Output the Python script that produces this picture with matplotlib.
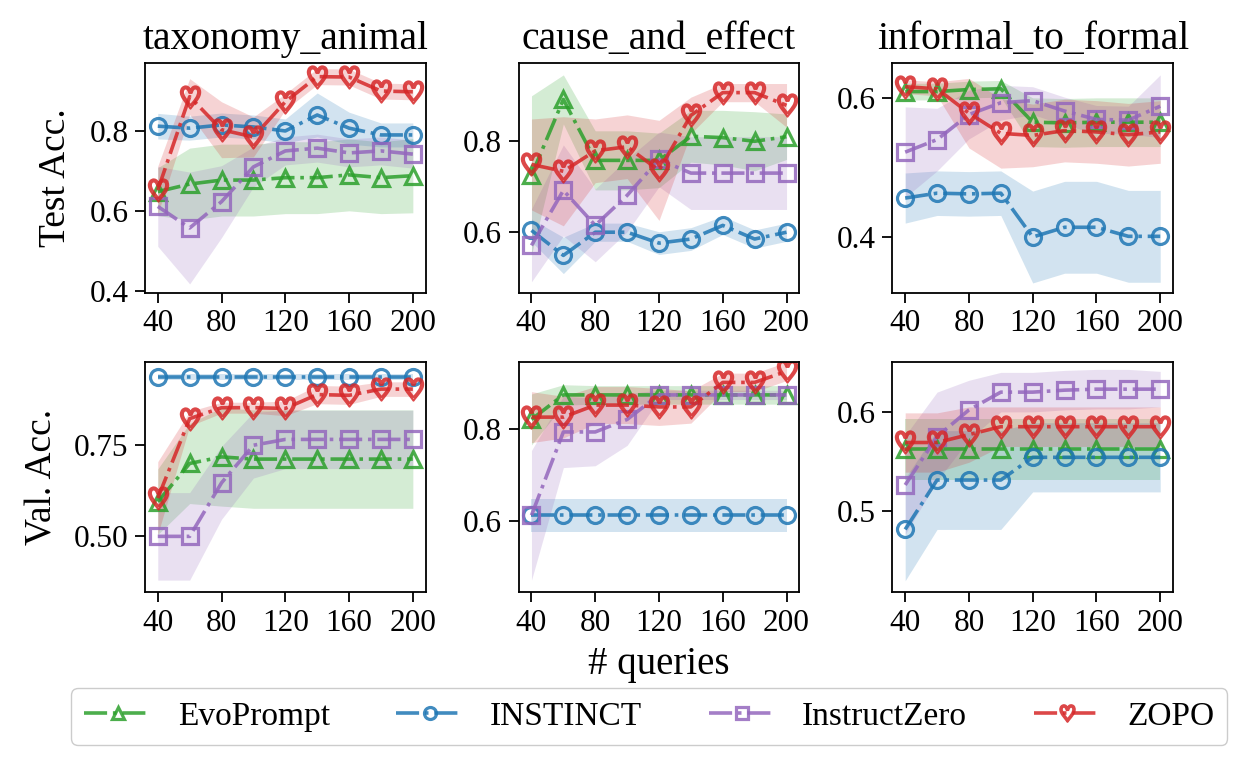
import numpy as np
import matplotlib
matplotlib.use('Agg')
import matplotlib.pyplot as plt

plt.rcParams['font.family'] = ['Liberation Serif', 'DejaVu Serif']
plt.rcParams['mathtext.fontset'] = 'stix'

# число запросов
queries = [40, 60, 80, 100, 120, 140, 160, 180, 200]
methods = ['EvoPrompt', 'INSTINCT', 'InstructZero', 'ZOPO']
tasks = ['taxonomy_animal', 'cause_and_effect', 'informal_to_formal']

# taxonomy_animal, test
tax_test_mean = {
    'EvoPrompt': [0.648, 0.667, 0.677, 0.677, 0.683, 0.683, 0.69, 0.683, 0.688],
    'INSTINCT': [0.812, 0.807, 0.815, 0.81, 0.80, 0.84, 0.807, 0.79, 0.79],
    'InstructZero': [0.611, 0.557, 0.623, 0.71, 0.75, 0.757, 0.745, 0.75, 0.742],
    'ZOPO': [0.652, 0.886, 0.803, 0.785, 0.873, 0.936, 0.935, 0.9, 0.898],
}
tax_test_std = {
    'EvoPrompt': [0.06, 0.09, 0.09, 0.09, 0.09, 0.09, 0.09, 0.09, 0.093],
    'INSTINCT': [0.032, 0.03, 0.03, 0.03, 0.03, 0.055, 0.04, 0.03, 0.03],
    'InstructZero': [0.10, 0.14, 0.09, 0.05, 0.035, 0.035, 0.035, 0.035, 0.035],
    'ZOPO': [0.06, 0.045, 0.07, 0.05, 0.02, 0.02, 0.02, 0.02, 0.02],
}

# cause_and_effect, test
cae_test_mean = {
    'EvoPrompt': [0.725, 0.892, 0.758, 0.758, 0.758, 0.811, 0.808, 0.80, 0.81],
    'INSTINCT': [0.604, 0.549, 0.60, 0.60, 0.576, 0.585, 0.615, 0.585, 0.60],
    'InstructZero': [0.571, 0.692, 0.615, 0.681, 0.76, 0.73, 0.73, 0.73, 0.73],
    'ZOPO': [0.749, 0.734, 0.779, 0.788, 0.736, 0.857, 0.907, 0.907, 0.879],
}
cae_test_std = {
    'EvoPrompt': [0.175, 0.054, 0.065, 0.065, 0.06, 0.057, 0.06, 0.065, 0.05],
    'INSTINCT': [0.025, 0.04, 0.02, 0.02, 0.025, 0.025, 0.02, 0.02, 0.02],
    'InstructZero': [0.08, 0.10, 0.08, 0.08, 0.06, 0.08, 0.08, 0.08, 0.08],
    'ZOPO': [0.10, 0.12, 0.07, 0.07, 0.11, 0.04, 0.02, 0.02, 0.048],
}

# informal_to_formal, test
itf_test_mean = {
    'EvoPrompt': [0.609, 0.609, 0.612, 0.613, 0.565, 0.564, 0.565, 0.565, 0.565],
    'INSTINCT': [0.456, 0.463, 0.462, 0.463, 0.40, 0.414, 0.414, 0.401, 0.401],
    'InstructZero': [0.522, 0.54, 0.576, 0.593, 0.596, 0.581, 0.569, 0.568, 0.588],
    'ZOPO': [0.616, 0.613, 0.578, 0.549, 0.546, 0.553, 0.551, 0.547, 0.551],
}
itf_test_std = {
    'EvoPrompt': [0.012, 0.012, 0.012, 0.012, 0.035, 0.035, 0.035, 0.035, 0.035],
    'INSTINCT': [0.036, 0.032, 0.032, 0.032, 0.066, 0.066, 0.066, 0.066, 0.066],
    'InstructZero': [0.065, 0.045, 0.035, 0.025, 0.02, 0.02, 0.02, 0.02, 0.045],
    'ZOPO': [0.01, 0.01, 0.05, 0.05, 0.045, 0.045, 0.045, 0.045, 0.045],
}

# taxonomy_animal, val
tax_val_mean = {
    'EvoPrompt': [0.595, 0.70, 0.718, 0.712, 0.712, 0.712, 0.712, 0.712, 0.712],
    'INSTINCT': [0.938, 0.938, 0.938, 0.938, 0.938, 0.938, 0.938, 0.938, 0.938],
    'InstructZero': [0.50, 0.50, 0.647, 0.75, 0.766, 0.766, 0.766, 0.766, 0.766],
    'ZOPO': [0.605, 0.823, 0.853, 0.853, 0.851, 0.889, 0.887, 0.904, 0.904],
}
tax_val_std = {
    'EvoPrompt': [0.09, 0.11, 0.135, 0.135, 0.135, 0.135, 0.135, 0.135, 0.135],
    'INSTINCT': [0.008, 0.008, 0.008, 0.008, 0.008, 0.008, 0.008, 0.008, 0.008],
    'InstructZero': [0.12, 0.12, 0.10, 0.09, 0.08, 0.08, 0.08, 0.08, 0.08],
    'ZOPO': [0.10, 0.02, 0.015, 0.015, 0.02, 0.025, 0.025, 0.02, 0.02],
}

# cause_and_effect, val
cae_val_mean = {
    'EvoPrompt': [0.82, 0.873, 0.873, 0.873, 0.873, 0.873, 0.873, 0.873, 0.873],
    'INSTINCT': [0.613, 0.613, 0.613, 0.613, 0.613, 0.613, 0.613, 0.613, 0.613],
    'InstructZero': [0.613, 0.793, 0.793, 0.82, 0.873, 0.873, 0.873, 0.873, 0.873],
    'ZOPO': [0.825, 0.825, 0.851, 0.851, 0.847, 0.847, 0.90, 0.90, 0.924],
}
cae_val_std = {
    'EvoPrompt': [0.055, 0.022, 0.02, 0.02, 0.02, 0.02, 0.02, 0.02, 0.02],
    'INSTINCT': [0.036, 0.036, 0.036, 0.036, 0.036, 0.036, 0.036, 0.036, 0.036],
    'InstructZero': [0.14, 0.077, 0.073, 0.056, 0.01, 0.01, 0.01, 0.01, 0.01],
    'ZOPO': [0.055, 0.045, 0.04, 0.04, 0.04, 0.035, 0.02, 0.02, 0.02],
}

# informal_to_formal, val
itf_val_mean = {
    'EvoPrompt': [0.562, 0.562, 0.562, 0.562, 0.562, 0.562, 0.562, 0.562, 0.562],
    'INSTINCT': [0.481, 0.531, 0.531, 0.531, 0.554, 0.554, 0.554, 0.554, 0.554],
    'InstructZero': [0.526, 0.575, 0.602, 0.62, 0.62, 0.622, 0.623, 0.623, 0.623],
    'ZOPO': [0.569, 0.569, 0.577, 0.585, 0.585, 0.585, 0.585, 0.585, 0.585],
}
itf_val_std = {
    'EvoPrompt': [0.031, 0.031, 0.031, 0.031, 0.031, 0.031, 0.031, 0.031, 0.031],
    'INSTINCT': [0.052, 0.05, 0.05, 0.05, 0.035, 0.035, 0.035, 0.035, 0.035],
    'InstructZero': [0.05, 0.045, 0.03, 0.02, 0.02, 0.02, 0.02, 0.02, 0.018],
    'ZOPO': [0.03, 0.03, 0.028, 0.02, 0.02, 0.02, 0.02, 0.02, 0.02],
}

colors = {'EvoPrompt': '#2ca02c', 'INSTINCT': '#1f77b4',
          'InstructZero': '#9467bd', 'ZOPO': '#d62728'}
markers = {'EvoPrompt': '^', 'INSTINCT': 'o',
           'InstructZero': 's', 'ZOPO': r'$\heartsuit$'}

panels = [
    [(tax_test_mean, tax_test_std), (cae_test_mean, cae_test_std), (itf_test_mean, itf_test_std)],
    [(tax_val_mean, tax_val_std), (cae_val_mean, cae_val_std), (itf_val_mean, itf_val_std)],
]
ylims = [[(0.395, 0.97), (0.467, 0.972), (0.32, 0.65)],
         [(0.347, 0.977), (0.447, 0.943), (0.4175, 0.65)]]
yticks = [[[0.4, 0.6, 0.8], [0.6, 0.8], [0.4, 0.6]],
          [[0.5, 0.75], [0.6, 0.8], [0.5, 0.6]]]

fig, axes = plt.subplots(2, 3, figsize=(12.46, 7.69), dpi=100)
plt.subplots_adjust(left=0.1164, right=0.9414, top=0.918, bottom=0.230,
                    wspace=0.332, hspace=0.304)

x = np.array(queries)
for r in range(2):
    for c in range(3):
        ax = axes[r, c]
        mean_d, std_d = panels[r][c]
        for m in methods:
            mu = np.array(mean_d[m])
            sd = np.array(std_d[m])
            ax.fill_between(x, mu - sd, mu + sd, color=colors[m], alpha=0.2, lw=0)
            ms = 16 if m == 'ZOPO' else 11.5
            ax.plot(x, mu, linestyle='-.', color=colors[m], lw=2.6, alpha=0.85,
                    marker=markers[m], markersize=ms, markerfacecolor='none',
                    markeredgewidth=2.3 if m != 'ZOPO' else 1.5, label=m)
        ax.set_xticks([40, 80, 120, 160, 200])
        ax.set_yticks(yticks[r][c])
        ax.set_ylim(*ylims[r][c])
        ax.tick_params(labelsize=22.5, width=1.3, length=7, pad=5)
        for s in ax.spines.values():
            s.set_linewidth(1.3)
        if r == 0:
            ax.set_title(tasks[c], fontsize=28.5, pad=10)

axes[0, 0].set_ylabel('Test Acc.', fontsize=27, labelpad=12)
axes[1, 0].set_ylabel('Val. Acc.', fontsize=27, labelpad=10)
axes[1, 1].set_xlabel('# queries', fontsize=28, labelpad=6)

handles, labels = axes[0, 0].get_legend_handles_labels()
fig.legend(handles, labels, loc='lower center', ncol=4,
           bbox_to_anchor=(0.521, 0.031), fontsize=24, borderaxespad=0,
           markerscale=0.75, framealpha=1, edgecolor='#cccccc')

plt.savefig('out.png', dpi=100)
